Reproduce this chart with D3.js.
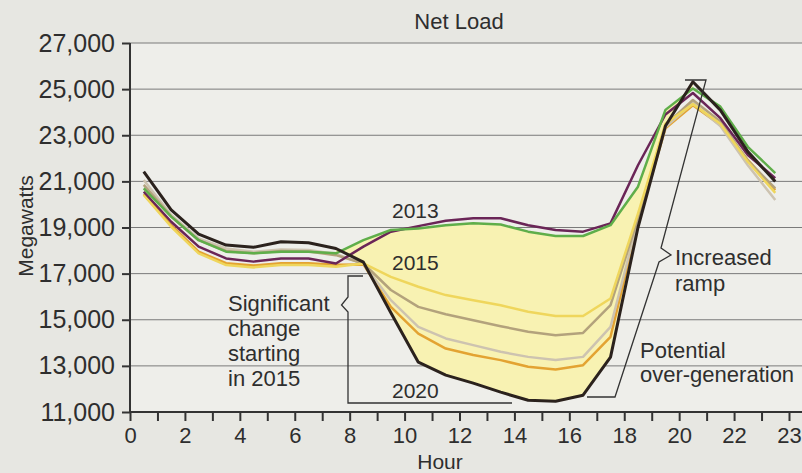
<!DOCTYPE html>
<html>
<head>
<meta charset="utf-8">
<script src="https://cdn.jsdelivr.net/npm/d3@7"></script>
<style>
  body { margin: 0; background: #e7e7e2; }
  svg { display: block; }
  text { font-family: "Liberation Sans", Arial, sans-serif; fill: #2e2e2e; }
</style>
</head>
<body>
<div id="chart"></div>
<script>
// Net load by hour (MW)
var hours = [0.5, 1.5, 2.5, 3.5, 4.5, 5.5, 6.5, 7.5, 8.5, 9.5, 10.5, 11.5,
             12.5, 13.5, 14.5, 15.5, 16.5, 17.5, 18.5, 19.5, 20.5, 21.5, 22.5, 23.5];

var load2012 = [20550, 19250, 18170, 17660, 17520, 17660, 17660, 17440, 18170, 18820, 19060, 19290,
                19400, 19400, 19100, 18890, 18820, 19180, 21700, 23900, 24830, 23740, 22140, 21140];
var load2013 = [20700, 19470, 18450, 17950, 17880, 17950, 17950, 17880, 18450, 18890, 18960, 19100,
                19180, 19130, 18820, 18630, 18630, 19100, 20770, 24100, 25030, 24240, 22500, 21360];
var load2015 = [20410, 19030, 17880, 17370, 17270, 17370, 17370, 17300, 17440, 16860, 16430, 16070,
                15850, 15630, 15350, 15160, 15160, 15920, 19600, 23500, 24350, 23500, 21850, 20500];
var load2016 = [20850, 19480, 18450, 17980, 17880, 17980, 17960, 17800, 17440, 16290, 15560, 15240,
                14980, 14720, 14480, 14330, 14430, 15630, 19400, 23450, 24530, 23600, 21900, 20700];
var load2017 = [21060, 19540, 18530, 18090, 17950, 18050, 18020, 17850, 17430, 15850, 14690, 14190,
                13900, 13610, 13390, 13250, 13390, 14690, 19300, 23350, 24400, 23400, 21700, 20190];
var load2018 = [20450, 19100, 17950, 17450, 17350, 17450, 17450, 17380, 17400, 15560, 14400, 13750,
                13470, 13250, 12960, 12840, 13030, 14260, 19200, 23300, 24300, 23450, 21930, 20620];
var load2020 = [21420, 19760, 18710, 18240, 18140, 18380, 18340, 18090, 17500, 15300, 13160, 12600,
                12250, 11860, 11510, 11470, 11730, 13380, 19000, 23400, 25320, 24090, 22290, 20990];

var series = [
    { year: "2018", values: load2018, color: "#e3a332", width: 2.5 },
    { year: "2017", values: load2017, color: "#cdc3b0", width: 2.5 },
    { year: "2016", values: load2016, color: "#b3a27c", width: 2.5 },
    { year: "2015", values: load2015, color: "#efd65c", width: 2.5 },
    { year: "2012", values: load2012, color: "#6a2557", width: 2.5 },
    { year: "2013", values: load2013, color: "#5fae4a", width: 2.5 },
    { year: "2020", values: load2020, color: "#2b221d", width: 3 }
];

var yTicks = [11000, 13000, 15000, 17000, 19000, 21000, 23000, 25000, 27000];
var xTickValues = [0, 1, 2, 3, 4, 5, 6, 7, 8, 9, 10, 11, 12, 13, 14, 15, 16, 17, 18, 19, 20, 21, 22, 23, 24];
var xLabelValues = [0, 2, 4, 6, 8, 10, 12, 14, 16, 18, 20, 22, 24];
var xLabels = ["0", "2", "4", "6", "8", "10", "12", "14", "16", "18", "20", "22", "23"];

var svgWidth = 802;
var svgHeight = 473;

var margin = { top: 43, right: 13, bottom: 61, left: 130 };
var width = svgWidth - margin.left - margin.right;
var height = svgHeight - margin.top - margin.bottom;

var svg = d3.select("#chart")
    .append("svg")
    .attr("width", svgWidth)
    .attr("height", svgHeight);

var chartGroup = svg.append("g")
    .attr("transform", `translate(${margin.left}, ${margin.top})`);

var xScale = d3.scaleLinear().domain([0, 24]).range([0, width]);
var yScale = d3.scaleLinear().domain([11000, 27000]).range([height, 0]);

// lighter plot panel
chartGroup.append("rect")
    .attr("x", 0)
    .attr("y", 0)
    .attr("width", svgWidth - margin.left)
    .attr("height", height)
    .attr("fill", "#eeeeea");

// grid lines run to the right edge
chartGroup.selectAll(".grid")
    .data(yTicks)
    .enter()
    .append("line")
    .attr("x1", 0)
    .attr("x2", svgWidth - margin.left)
    .attr("y1", d => yScale(d))
    .attr("y2", d => yScale(d))
    .attr("stroke", "#7a7a7a")
    .attr("stroke-width", 1);

// yellow belly between 2013 and 2020
var bellyIdx = [7, 8, 9, 10, 11, 12, 13, 14, 15, 16, 17, 18, 19, 20];
var belly = d3.area()
    .x(i => xScale(hours[i]))
    .y0(i => yScale(load2020[i]))
    .y1(i => yScale(load2013[i]));

chartGroup.append("path")
    .datum(bellyIdx)
    .attr("d", belly)
    .attr("fill", "#f8f2b2");

var line = d3.line()
    .x((d, i) => xScale(hours[i]))
    .y(d => yScale(d));

chartGroup.selectAll(".load")
    .data(series)
    .enter()
    .append("path")
    .attr("d", d => line(d.values))
    .attr("fill", "none")
    .attr("stroke", d => d.color)
    .attr("stroke-width", d => d.width)
    .attr("stroke-linejoin", "round");

// axes
var leftAxis = d3.axisLeft(yScale)
    .tickValues(yTicks)
    .tickSize(8)
    .tickPadding(7)
    .tickFormat(d3.format(","));

var bottomAxis = d3.axisBottom(xScale)
    .tickValues(xTickValues)
    .tickSize(9)
    .tickPadding(6)
    .tickFormat(d => {
        var k = xLabelValues.indexOf(d);
        return k < 0 ? "" : xLabels[k];
    });

var yAxisG = chartGroup.append("g").call(leftAxis);
yAxisG.select(".domain").remove();
yAxisG.append("line")
    .attr("x1", 0).attr("x2", 0)
    .attr("y1", 0).attr("y2", height)
    .attr("stroke", "#333").attr("stroke-width", 2);
yAxisG.selectAll(".tick line").attr("stroke", "#333").attr("stroke-width", 2);
yAxisG.selectAll(".tick text")
    .attr("font-size", "25px")
    .attr("font-family", "Liberation Sans, Arial, sans-serif")
    .attr("fill", "#2e2e2e");

var xAxisG = chartGroup.append("g")
    .attr("transform", `translate(0, ${height})`)
    .call(bottomAxis);
xAxisG.select(".domain").remove();
xAxisG.append("line")
    .attr("x1", 0).attr("x2", svgWidth - margin.left)
    .attr("y1", 0).attr("y2", 0)
    .attr("stroke", "#333").attr("stroke-width", 2);
xAxisG.selectAll(".tick line").attr("stroke", "#333").attr("stroke-width", 2);
xAxisG.selectAll(".tick text")
    .attr("font-size", "22px")
    .attr("font-family", "Liberation Sans, Arial, sans-serif")
    .attr("fill", "#2e2e2e");

// titles
svg.append("text")
    .attr("x", 459)
    .attr("y", 29)
    .attr("text-anchor", "middle")
    .attr("font-size", "22px")
    .text("Net Load");

svg.append("text")
    .attr("x", 440)
    .attr("y", 469)
    .attr("text-anchor", "middle")
    .attr("font-size", "21px")
    .text("Hour");

svg.append("text")
    .attr("transform", "translate(33, 226) rotate(-90)")
    .attr("text-anchor", "middle")
    .attr("font-size", "21px")
    .text("Megawatts");

// year labels
var yearLabels = [
    { text: "2013", x: 392, y: 218 },
    { text: "2015", x: 392, y: 270 },
    { text: "2020", x: 392, y: 398 }
];
svg.selectAll(".yr")
    .data(yearLabels)
    .enter()
    .append("text")
    .attr("x", d => d.x)
    .attr("y", d => d.y)
    .attr("font-size", "21px")
    .text(d => d.text);

// annotation text blocks
function addBlock(lines, x, y0, step) {
    lines.forEach(function(t, i) {
        svg.append("text")
            .attr("x", x)
            .attr("y", y0 + i * step)
            .attr("font-size", "22px")
            .text(t);
    });
}
addBlock(["Significant", "change", "starting", "in 2015"], 228, 311, 25);
addBlock(["Increased", "ramp"], 675, 265, 26);
addBlock(["Potential", "over-generation"], 640, 358, 24);

// brackets
svg.append("path")
    .attr("d", "M363,276 H348 V297 L341.5,305 L348,312 V403 H512")
    .attr("fill", "none")
    .attr("stroke", "#333")
    .attr("stroke-width", 1.3);

svg.append("path")
    .attr("d", "M685,80 H706 L661,248 L671,255 L659,262 L615,397 H587")
    .attr("fill", "none")
    .attr("stroke", "#333")
    .attr("stroke-width", 1.3);
</script>
</body>
</html>
